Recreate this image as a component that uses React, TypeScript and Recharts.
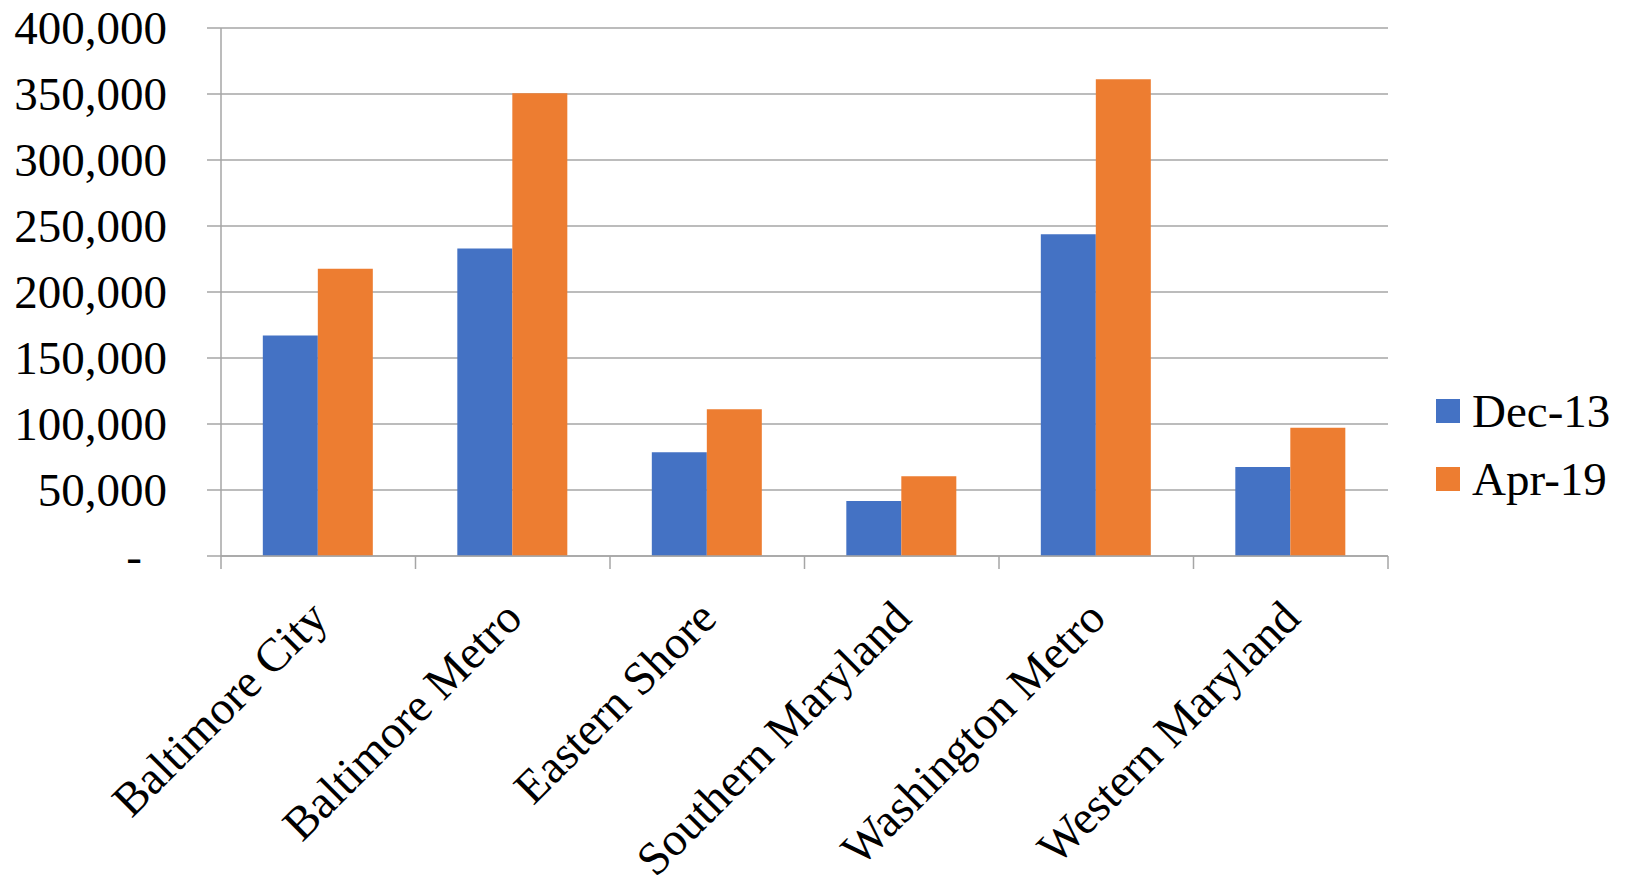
import { Bar, BarChart, CartesianGrid, Legend, XAxis, YAxis } from "recharts";

const categories = [
  "Baltimore City",
  "Baltimore Metro",
  "Eastern Shore",
  "Southern Maryland",
  "Washington Metro",
  "Western Maryland",
];
const dec13 = [167000, 233000, 78600, 41700, 243700, 67400];
const apr19 = [217700, 350500, 111100, 60400, 361100, 97200];
const seriesNames = ["Dec-13", "Apr-19"];
const yTicks = [0, 50000, 100000, 150000, 200000, 250000, 300000, 350000, 400000];

const BLUE = "#4472C4";
const ORANGE = "#ED7D31";
const GRID = "#a6a6a6";
const FONT = "'Liberation Serif', 'Times New Roman', serif";

const data = categories.map((name, i) => ({ name, dec13: dec13[i], apr19: apr19[i] }));

const YTick = (props: any) => {
  const { x, y, payload } = props;
  const v = payload.value as number;
  return (
    <text
      x={v === 0 ? x - 25 : x}
      y={y}
      dy="0.35em"
      textAnchor="end"
      fontFamily={FONT}
      fontSize={47}
      fill="#000"
    >
      {v === 0 ? "-" : v.toLocaleString("en-US")}
    </text>
  );
};

const XTick = (props: any) => {
  const { x, y, payload } = props;
  const half = payload.offset || 97.25;
  const axisY = y - 13;
  const last = payload.index === categories.length - 1;
  return (
    <g>
      <line x1={x - half} x2={x - half} y1={axisY} y2={axisY + 13} stroke={GRID} strokeWidth={1.5} />
      {last && <line x1={x + half} x2={x + half} y1={axisY} y2={axisY + 13} stroke={GRID} strokeWidth={1.5} />}
      <text
        x={x}
        y={axisY + 53}
        dy="0.35em"
        textAnchor="end"
        transform={`rotate(-45, ${x}, ${axisY + 53})`}
        fontFamily={FONT}
        fontSize={47}
        fill="#000"
      >
        {payload.value}
      </text>
    </g>
  );
};

const LegendBox = () => (
  <div style={{ fontFamily: FONT, fontSize: 47, color: "#000", whiteSpace: "nowrap", width: 191 }}>
    {seriesNames.map((n, i) => (
      <div key={n} style={{ display: "flex", alignItems: "center", height: 68 }}>
        <span
          style={{
            display: "block",
            flexShrink: 0,
            width: 24,
            minWidth: 24,
            height: 24,
            background: i === 0 ? BLUE : ORANGE,
            marginRight: 12,
          }}
        />
        <span style={{ lineHeight: "68px" }}>{n}</span>
      </div>
    ))}
  </div>
);

export default function App() {
  return (
    <div style={{ position: "absolute", left: 0, top: 0, width: 1627, height: 875, background: "#fff" }}>
      <BarChart
        width={1627}
        height={875}
        data={data}
        margin={{ top: 28, right: 239, left: 0, bottom: 0 }}
        barCategoryGap="21.5%"
        barGap={0}
      >
        <CartesianGrid vertical={false} stroke={GRID} strokeWidth={1.5} />
        <XAxis
          dataKey="name"
          height={319}
          interval={0}
          tickLine={false}
          tickSize={13}
          tickMargin={0}
          axisLine={{ stroke: GRID, strokeWidth: 1.5 }}
          tick={<XTick />}
        />
        <YAxis
          width={221}
          domain={[0, 400000]}
          ticks={yTicks}
          interval={0}
          tickSize={14}
          tickMargin={40}
          tickLine={{ stroke: GRID, strokeWidth: 1.5 }}
          axisLine={{ stroke: GRID, strokeWidth: 1.5 }}
          tick={<YTick />}
        />
        <Legend
          content={<LegendBox />}
          wrapperStyle={{
            position: "absolute",
            left: 1436,
            top: 377,
            width: 0,
            height: 0,
            overflow: "visible",
            right: "auto",
            bottom: "auto",
          }}
        />
        <Bar dataKey="dec13" name={seriesNames[0]} fill={BLUE} isAnimationActive={false} />
        <Bar dataKey="apr19" name={seriesNames[1]} fill={ORANGE} isAnimationActive={false} />
      </BarChart>
    </div>
  );
}
